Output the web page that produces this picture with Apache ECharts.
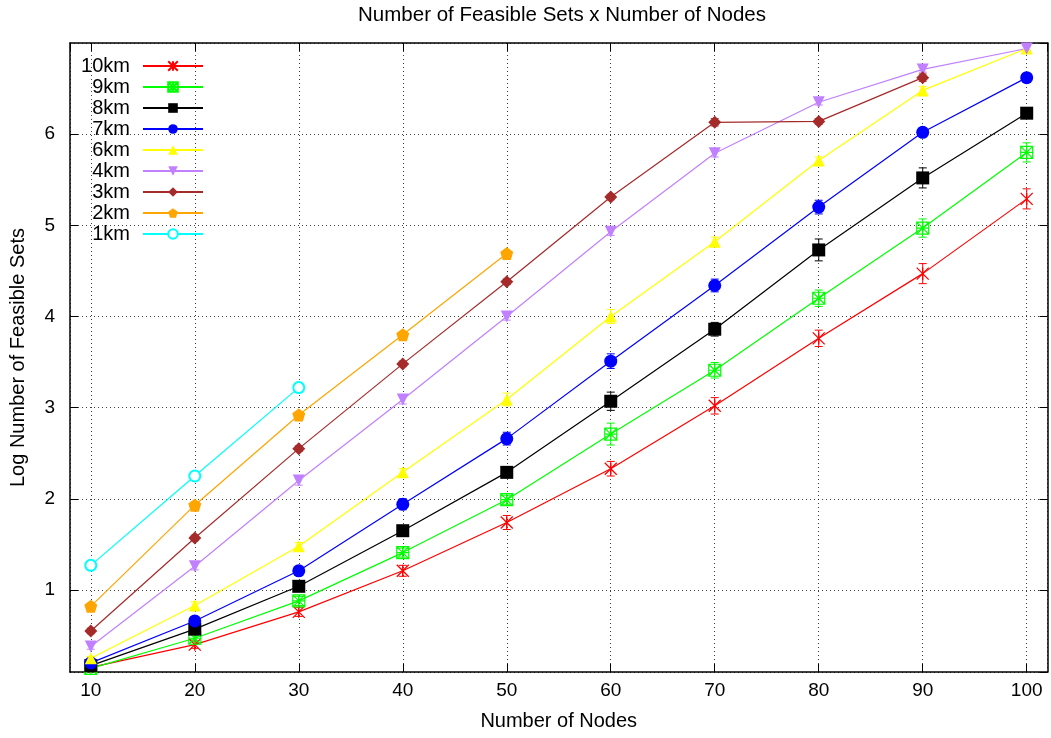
<!DOCTYPE html>
<html>
<head>
<meta charset="utf-8">
<script src="https://cdn.jsdelivr.net/npm/echarts@6/dist/echarts.min.js"></script>
<style>html,body{margin:0;padding:0;background:#fff;}#c{width:1051px;height:738px;}</style>
</head>
<body>
<div id="c"></div>
<script>
const nodes = [10, 20, 30, 40, 50, 60, 70, 80, 90, 100];
const xTicks = [10, 20, 30, 40, 50, 60, 70, 80, 90, 100];
const yTicks = [1, 2, 3, 4, 5, 6];

const names = ['10km', '9km', '8km', '7km', '6km', '4km', '3km', '2km', '1km'];

const km10 = [0.15, 0.40, 0.76, 1.21, 1.74, 2.33, 3.02, 3.76, 4.47, 5.29];
const km9  = [0.14, 0.47, 0.88, 1.41, 1.99, 2.71, 3.41, 4.20, 4.97, 5.80];
const km8  = [0.17, 0.57, 1.04, 1.65, 2.29, 3.07, 3.86, 4.73, 5.52, 6.23];
const km7  = [0.20, 0.66, 1.21, 1.94, 2.66, 3.51, 4.34, 5.20, 6.02, 6.62];
const km6  = [0.25, 0.83, 1.48, 2.29, 3.09, 4.00, 4.82, 5.71, 6.48, 6.94];
const km4  = [0.38, 1.26, 2.20, 3.09, 4.00, 4.93, 5.79, 6.35, 6.71, 6.94];
const km3  = [0.55, 1.57, 2.55, 3.48, 4.38, 5.31, 6.13, 6.14, 6.62];
const km2  = [0.82, 1.93, 2.92, 3.80, 4.69];
const km1  = [1.27, 2.25, 3.22];

const err10 = [0.02, 0.04, 0.05, 0.06, 0.077, 0.08, 0.09, 0.09, 0.11, 0.11];
const err9  = [0.02, 0.04, 0.05, 0.05, 0.05, 0.12, 0.085, 0.09, 0.10, 0.105];
const err8  = [0.02, 0.03, 0.04, 0.05, 0.05, 0.10, 0.075, 0.12, 0.11, 0.05];
const err7  = [0.02, 0.04, 0.05, 0.06, 0.07, 0.08, 0.07, 0.075, 0.05, 0.03];
const err6  = [0.02, 0.04, 0.04, 0.04, 0.07, 0.077, 0.05, 0.04, 0.04, 0.02];
const err4  = [0.03, 0.04, 0.05, 0.05, 0.04, 0.04, 0.04, 0.03, 0.03, 0.02];
const err3  = [0.03, 0.03, 0.03, 0.03, 0.03, 0.03, 0.04, 0.03, 0.04];
const err2  = [0.02, 0.02, 0.02, 0.02, 0.02];
const err1  = [0.02, 0.02, 0.05];

const values = [km10, km9, km8, km7, km6, km4, km3, km2, km1];
const errors = [err10, err9, err8, err7, err6, err4, err3, err2, err1];
const colors = ['#ff0000', '#00ff00', '#000000', '#0000ff', '#ffff00', '#c080ff', '#a52a2a', '#ffa500', '#00ffff'];

const ASTER = 'path://M0 0L10 10M10 0L0 10M5 0L5 10';
const BOXASTER = 'path://M0 0L10 0L10 10L0 10Z M0 0L10 10M10 0L0 10M5 0L5 10M0 5L10 5';
const PENTA = 'path://M5 0L10 3.8L8.1 10L1.9 10L0 3.8Z';
const markers = [
  {symbol: ASTER, size: 12, fill: 'rgba(0,0,0,0)', bw: 1.3},
  {symbol: BOXASTER, size: 12, fill: 'rgba(0,0,0,0)', bw: 1.2},
  {symbol: 'rect', size: 13},
  {symbol: 'circle', size: 13},
  {symbol: 'triangle', size: 12},
  {symbol: 'triangle', size: 12, rotate: 180},
  {symbol: 'diamond', size: 13},
  {symbol: PENTA, size: 13},
  {symbol: 'circle', size: 11, fill: '#ffffff', bw: 2}
];

const FONT = '"Liberation Sans", Arial, Helvetica, sans-serif';

function errRender(color) {
  return function (params, api) {
    const x = api.value(0), lo = api.value(1), hi = api.value(2);
    const p1 = api.coord([x, lo]);
    const p2 = api.coord([x, hi]);
    const cw = 4;
    const st = {stroke: color, lineWidth: 1};
    return {
      type: 'group',
      children: [
        {type: 'line', shape: {x1: p1[0], y1: p1[1], x2: p2[0], y2: p2[1]}, style: st},
        {type: 'line', shape: {x1: p1[0] - cw, y1: p1[1], x2: p1[0] + cw, y2: p1[1]}, style: st},
        {type: 'line', shape: {x1: p2[0] - cw, y1: p2[1], x2: p2[0] + cw, y2: p2[1]}, style: st}
      ]
    };
  };
}

const series = [];
names.forEach(function (nm, i) {
  const vals = values[i], errs = errors[i];
  series.push({
    name: nm + ' err',
    type: 'custom',
    renderItem: errRender(colors[i]),
    encode: {x: 0, y: [1, 2]},
    data: vals.map(function (v, j) { return [nodes[j], v - errs[j], v + errs[j]]; }),
    z: 2,
    silent: true
  });
});
names.forEach(function (nm, i) {
  const vals = values[i];
  const m = markers[i];
  series.push({
    name: nm,
    type: 'line',
    data: vals.map(function (v, j) { return [nodes[j], v]; }),
    symbol: m.symbol,
    symbolSize: m.size,
    symbolRotate: m.rotate || 0,
    showAllSymbol: true,
    lineStyle: {color: colors[i], width: 1.2},
    itemStyle: {
      color: m.fill || colors[i],
      borderColor: colors[i],
      borderWidth: m.bw || 0
    },
    z: 3,
    animation: false
  });
});

const axisFont = {fontFamily: FONT, fontSize: 20, color: '#000'};
const gridLine = {show: true, lineStyle: {color: '#000', type: [1, 3], width: 1, opacity: 0.75}};

const option = {
  animation: false,
  backgroundColor: '#ffffff',
  title: {
    text: 'Number of Feasible Sets x Number of Nodes',
    left: 557,
    textAlign: 'center',
    top: 0,
    textStyle: {fontFamily: FONT, fontSize: 20.5, fontWeight: 'normal', color: '#000'}
  },
  legend: {
    data: names,
    orient: 'vertical',
    left: 65,
    top: 51,
    align: 'right',
    itemWidth: 60,
    itemHeight: 12,
    itemGap: 1,
    formatter: function (name) { return '{a|' + name + '}'; },
    textStyle: {
      rich: {
        a: {width: 60, align: 'right', fontFamily: FONT, fontSize: 20, color: '#000', lineHeight: 20, padding: [0, 8, 0, 0]}
      }
    }
  },
  grid: {left: 67.5, right: 3.5, top: 43, bottom: 66, containLabel: false},
  xAxis: [
    {
      type: 'value', min: 8, max: 102, minInterval: 10, maxInterval: 10, splitNumber: 10,
      name: 'Number of Nodes', nameLocation: 'middle', nameGap: 39,
      nameTextStyle: axisFont,
      axisLine: {show: true, onZero: false, lineStyle: {color: '#000', width: 1.5}},
      axisTick: {show: true, inside: true, length: 8, lineStyle: {color: '#000', width: 1}},
      axisLabel: {show: true, margin: 9, showMinLabel: false, showMaxLabel: false, fontFamily: FONT, fontSize: 19, color: '#000',
        formatter: function (v) { return xTicks.indexOf(v) >= 0 ? String(v) : ''; }},
      splitLine: gridLine
    },
    {
      type: 'value', position: 'top', min: 8, max: 102, minInterval: 10, maxInterval: 10, splitNumber: 10,
      axisLine: {show: true, onZero: false, lineStyle: {color: '#000', width: 1.5}},
      axisTick: {show: true, inside: true, length: 8, lineStyle: {color: '#000', width: 1}},
      axisLabel: {show: false},
      splitLine: {show: false}
    }
  ],
  yAxis: [
    {
      type: 'value', min: 0.1, max: 7, minInterval: 1, maxInterval: 1, splitNumber: 7,
      name: 'Log Number of Feasible Sets', nameLocation: 'middle', nameGap: 42,
      nameTextStyle: axisFont,
      axisLine: {show: true, onZero: false, lineStyle: {color: '#000', width: 1.5}},
      axisTick: {show: true, inside: true, length: 8, lineStyle: {color: '#000', width: 1}},
      axisLabel: {show: true, margin: 15, showMinLabel: false, showMaxLabel: false, fontFamily: FONT, fontSize: 19, color: '#000',
        formatter: function (v) { return yTicks.indexOf(v) >= 0 ? String(v) : ''; }},
      splitLine: gridLine
    },
    {
      type: 'value', position: 'right', min: 0.1, max: 7, minInterval: 1, maxInterval: 1, splitNumber: 7,
      axisLine: {show: true, onZero: false, lineStyle: {color: '#000', width: 1.5}},
      axisTick: {show: true, inside: true, length: 8, lineStyle: {color: '#000', width: 1}},
      axisLabel: {show: false},
      splitLine: {show: false}
    }
  ],
  series: series
};

const chart = echarts.init(document.getElementById('c'), null, {renderer: 'canvas'});
chart.setOption(option);
</script>
</body>
</html>
